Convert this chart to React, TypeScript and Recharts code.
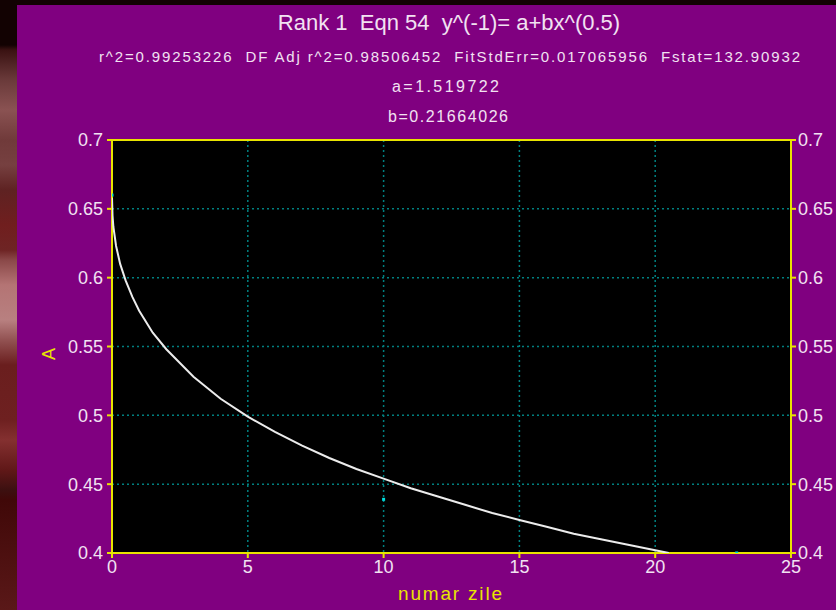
import React from 'react'
import {
  ComposedChart,
  Scatter,
  XAxis,
  YAxis,
  CartesianGrid,
  ReferenceLine,
} from 'recharts'

// fitted curve
const CURVE_X = [0, 0.02, 0.05, 0.15, 0.3, 0.5, 0.75, 1, 1.5, 2, 3, 4, 5, 6, 7, 8, 9, 10, 11, 12, 13, 14, 15, 16, 17, 18, 19, 20, 20.5]
const CURVE_Y = [0.658, 0.645, 0.637, 0.623, 0.61, 0.598, 0.586, 0.576, 0.56, 0.548, 0.528, 0.512, 0.499, 0.488, 0.478, 0.469, 0.461, 0.454, 0.447, 0.441, 0.435, 0.429, 0.424, 0.419, 0.414, 0.41, 0.406, 0.402, 0.4]

// measured points
const POINT_X = [0, 10, 23]
const POINT_Y = [0.66, 0.439, 0.4]

const X_TICKS = [0, 5, 10, 15, 20, 25]
const Y_TICKS = [0.4, 0.45, 0.5, 0.55, 0.6, 0.65, 0.7]

const TITLE = 'Rank 1  Eqn 54  y^(-1)= a+bx^(0.5)'
const STATS = 'r^2=0.99253226  DF Adj r^2=0.98506452  FitStdErr=0.017065956  Fstat=132.90932'
const PARAM_A = 'a=1.519722'
const PARAM_B = 'b=0.21664026'
const X_LABEL = 'numar zile'
const Y_LABEL = 'A'

const curve = CURVE_X.map((x, i) => ({ x, y: CURVE_Y[i] }))
const points = POINT_X.map((x, i) => ({ x, y: POINT_Y[i] }))

const PURPLE = '#800080'
const YELLOW = '#e8e400'
const PALE = '#f2e2f2'
const FONT = '"Liberation Sans", Arial, sans-serif'

const Dot = (props: any) => {
  const { cx, cy } = props
  if (cx == null || cy == null) return null
  return <rect x={cx - 1.5} y={cy - 1.5} width={3} height={3} fill="#00dede" />
}

const NoShape = () => null

export default function App() {
  const tick = { fill: PALE, fontSize: 18, fontFamily: FONT }
  const pre = { whiteSpace: 'pre' as const }
  return (
    <div
      style={{
        position: 'absolute',
        left: 0,
        top: 0,
        width: 836,
        height: 610,
        overflow: 'hidden',
        background:
          'linear-gradient(to bottom, #120202 0px, #120202 45px, #3a1212 50px, #6a3a3a 80px, #8a5252 110px, #703a3a 140px, #764040 165px, #5e2222 190px, #701e1e 225px, #6e2424 250px, #8a4848 260px, #b47474 285px, #b88080 320px, #925252 340px, #6a1e1e 365px, #6e2020 420px, #843030 440px, #601818 470px, #3c1010 490px, #400808 500px, #5a1818 610px)',
      }}
    >
      <div style={{ position: 'absolute', left: 17, top: 5, right: 0, bottom: 0, background: PURPLE }} />
      <div style={{ position: 'absolute', left: 0, top: 0 }}>
        <ComposedChart width={836} height={610} margin={{ top: 140, right: 0, bottom: 27, left: 62 }}>
          <CartesianGrid
            fill="#000000"
            stroke="#008080"
            strokeDasharray="2 3"
            strokeWidth={1.5}
            horizontalValues={Y_TICKS}
            verticalValues={X_TICKS}
            yAxisId="left"
          />
          <XAxis
            dataKey="x"
            type="number"
            domain={[0, 25]}
            ticks={X_TICKS}
            allowDataOverflow
            axisLine={{ stroke: YELLOW, strokeWidth: 2 }}
            tickLine={{ stroke: YELLOW, strokeWidth: 2 }}
            tickSize={5}
            tick={tick}
            height={30}
          />
          <YAxis
            yAxisId="left"
            dataKey="y"
            type="number"
            domain={[0.4, 0.7]}
            ticks={Y_TICKS}
            allowDataOverflow
            axisLine={{ stroke: YELLOW, strokeWidth: 2 }}
            tickLine={{ stroke: YELLOW, strokeWidth: 2 }}
            tickSize={5}
            tickMargin={4}
            tick={tick}
            width={50}
          />
          <YAxis
            yAxisId="right"
            orientation="right"
            type="number"
            domain={[0.4, 0.7]}
            ticks={Y_TICKS}
            allowDataOverflow
            axisLine={{ stroke: YELLOW, strokeWidth: 2 }}
            tickLine={{ stroke: YELLOW, strokeWidth: 2 }}
            tickSize={5}
            tick={{ ...tick, textAnchor: 'start' }}
            width={45}
          />
          <ReferenceLine yAxisId="left" y={0.7} stroke={YELLOW} strokeWidth={2} />
          <Scatter
            yAxisId="left"
            data={curve}
            dataKey="y"
            line={{ stroke: '#ececec', strokeWidth: 2 }}
            lineType="joint"
            shape={NoShape}
            isAnimationActive={false}
          />
          <Scatter yAxisId="left" data={points} dataKey="y" shape={Dot} isAnimationActive={false} />
        </ComposedChart>
      </div>
      <svg
        width={836}
        height={610}
        style={{ position: 'absolute', left: 0, top: 0, pointerEvents: 'none' }}
        fontFamily={FONT}
      >
        <text x={449} y={30} fontSize={22} fill={PALE} textAnchor="middle" style={pre}>
          {TITLE}
        </text>
        <text x={99} y={62} fontSize={15} fill={PALE} textLength={701} lengthAdjust="spacing" style={pre}>
          {STATS}
        </text>
        <text x={392} y={92} fontSize={16} fill={PALE} textLength={107} lengthAdjust="spacing">
          {PARAM_A}
        </text>
        <text x={388} y={122} fontSize={16} fill={PALE} textLength={120} lengthAdjust="spacing">
          {PARAM_B}
        </text>
        <text x={398} y={600} fontSize={19} fill={YELLOW} textLength={104} lengthAdjust="spacing">
          {X_LABEL}
        </text>
        <text
          transform="translate(55,354) rotate(-90)"
          fontSize={18}
          fill={YELLOW}
          textAnchor="middle"
        >
          {Y_LABEL}
        </text>
      </svg>
    </div>
  )
}
